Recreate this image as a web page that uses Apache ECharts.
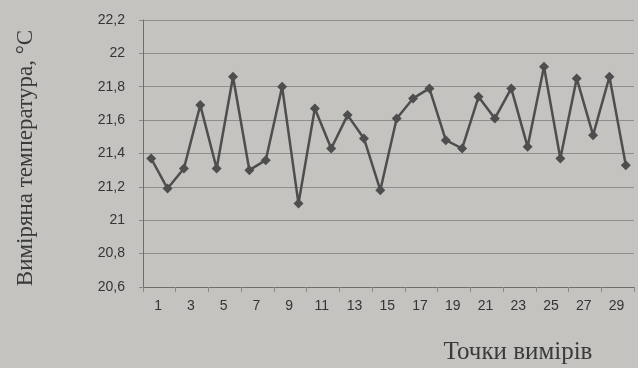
<!DOCTYPE html>
<html>
<head>
<meta charset="utf-8">
<script src="https://cdn.jsdelivr.net/npm/echarts@6/dist/echarts.min.js"></script>
<style>
  html, body { margin: 0; padding: 0; background: #c4c3c0; }
  #chart { width: 638px; height: 368px; }
</style>
</head>
<body>
<div id="chart"></div>
<script>
// Measurement points 1..30
const points = [
  '1','2','3','4','5','6','7','8','9','10',
  '11','12','13','14','15','16','17','18','19','20',
  '21','22','23','24','25','26','27','28','29','30'
];
// Measured temperature, °C
const temperature = [
  21.37, 21.19, 21.31, 21.69, 21.31, 21.86, 21.30, 21.36, 21.80, 21.10,
  21.67, 21.43, 21.63, 21.49, 21.18, 21.61, 21.73, 21.79, 21.48, 21.43,
  21.74, 21.61, 21.79, 21.44, 21.92, 21.37, 21.85, 21.51, 21.86, 21.33
];
const yMin = 20.6, yMax = 22.2, yStep = 0.2;
const yTitle = 'Виміряна температура, °С';
const xTitle = 'Точки вимірів';

const chart = echarts.init(document.getElementById('chart'));
chart.setOption({
  backgroundColor: '#c4c3c0',
  animation: false,
  grid: { left: 143, right: 4, top: 20, bottom: 81 },
  xAxis: {
    type: 'category',
    data: points,
    boundaryGap: true,
    axisLine: { lineStyle: { color: '#6e6e6c', width: 1 } },
    axisTick: { show: true, length: 5, lineStyle: { color: '#8a8a88' } },
    axisLabel: {
      interval: 1,
      margin: 12,
      padding: [0, 0, 0, 14],
      color: '#343434',
      fontFamily: 'Liberation Sans, Arial, sans-serif',
      fontSize: 14
    },
    splitLine: { show: false }
  },
  yAxis: {
    type: 'value',
    min: yMin,
    max: yMax,
    interval: yStep,
    axisLine: { show: true, lineStyle: { color: '#6e6e6c', width: 1 } },
    axisTick: { show: true, length: 4, lineStyle: { color: '#8a8a88' } },
    axisLabel: {
      margin: 18,
      color: '#343434',
      fontFamily: 'Liberation Sans, Arial, sans-serif',
      fontSize: 14,
      formatter: v => String(+v.toFixed(1)).replace('.', ',')
    },
    splitLine: { show: true, lineStyle: { color: '#8e8e8c', width: 1.2 } }
  },
  series: [{
    type: 'line',
    data: temperature,
    symbol: 'diamond',
    symbolSize: 10,
    lineStyle: { color: '#4e4e4e', width: 2.5 },
    itemStyle: { color: '#4e4e4e' }
  }],
  graphic: [
    {
      type: 'text',
      x: 26,
      y: 158,
      rotation: Math.PI / 2,
      style: {
        text: yTitle,
        fill: '#3a3a3a',
        font: '23px "Liberation Serif", "Times New Roman", serif',
        align: 'center',
        verticalAlign: 'middle'
      }
    },
    {
      type: 'text',
      x: 518,
      y: 352,
      style: {
        text: xTitle,
        fill: '#3a3a3a',
        font: '25px "Liberation Serif", "Times New Roman", serif',
        align: 'center',
        verticalAlign: 'middle'
      }
    }
  ]
});
</script>
</body>
</html>
